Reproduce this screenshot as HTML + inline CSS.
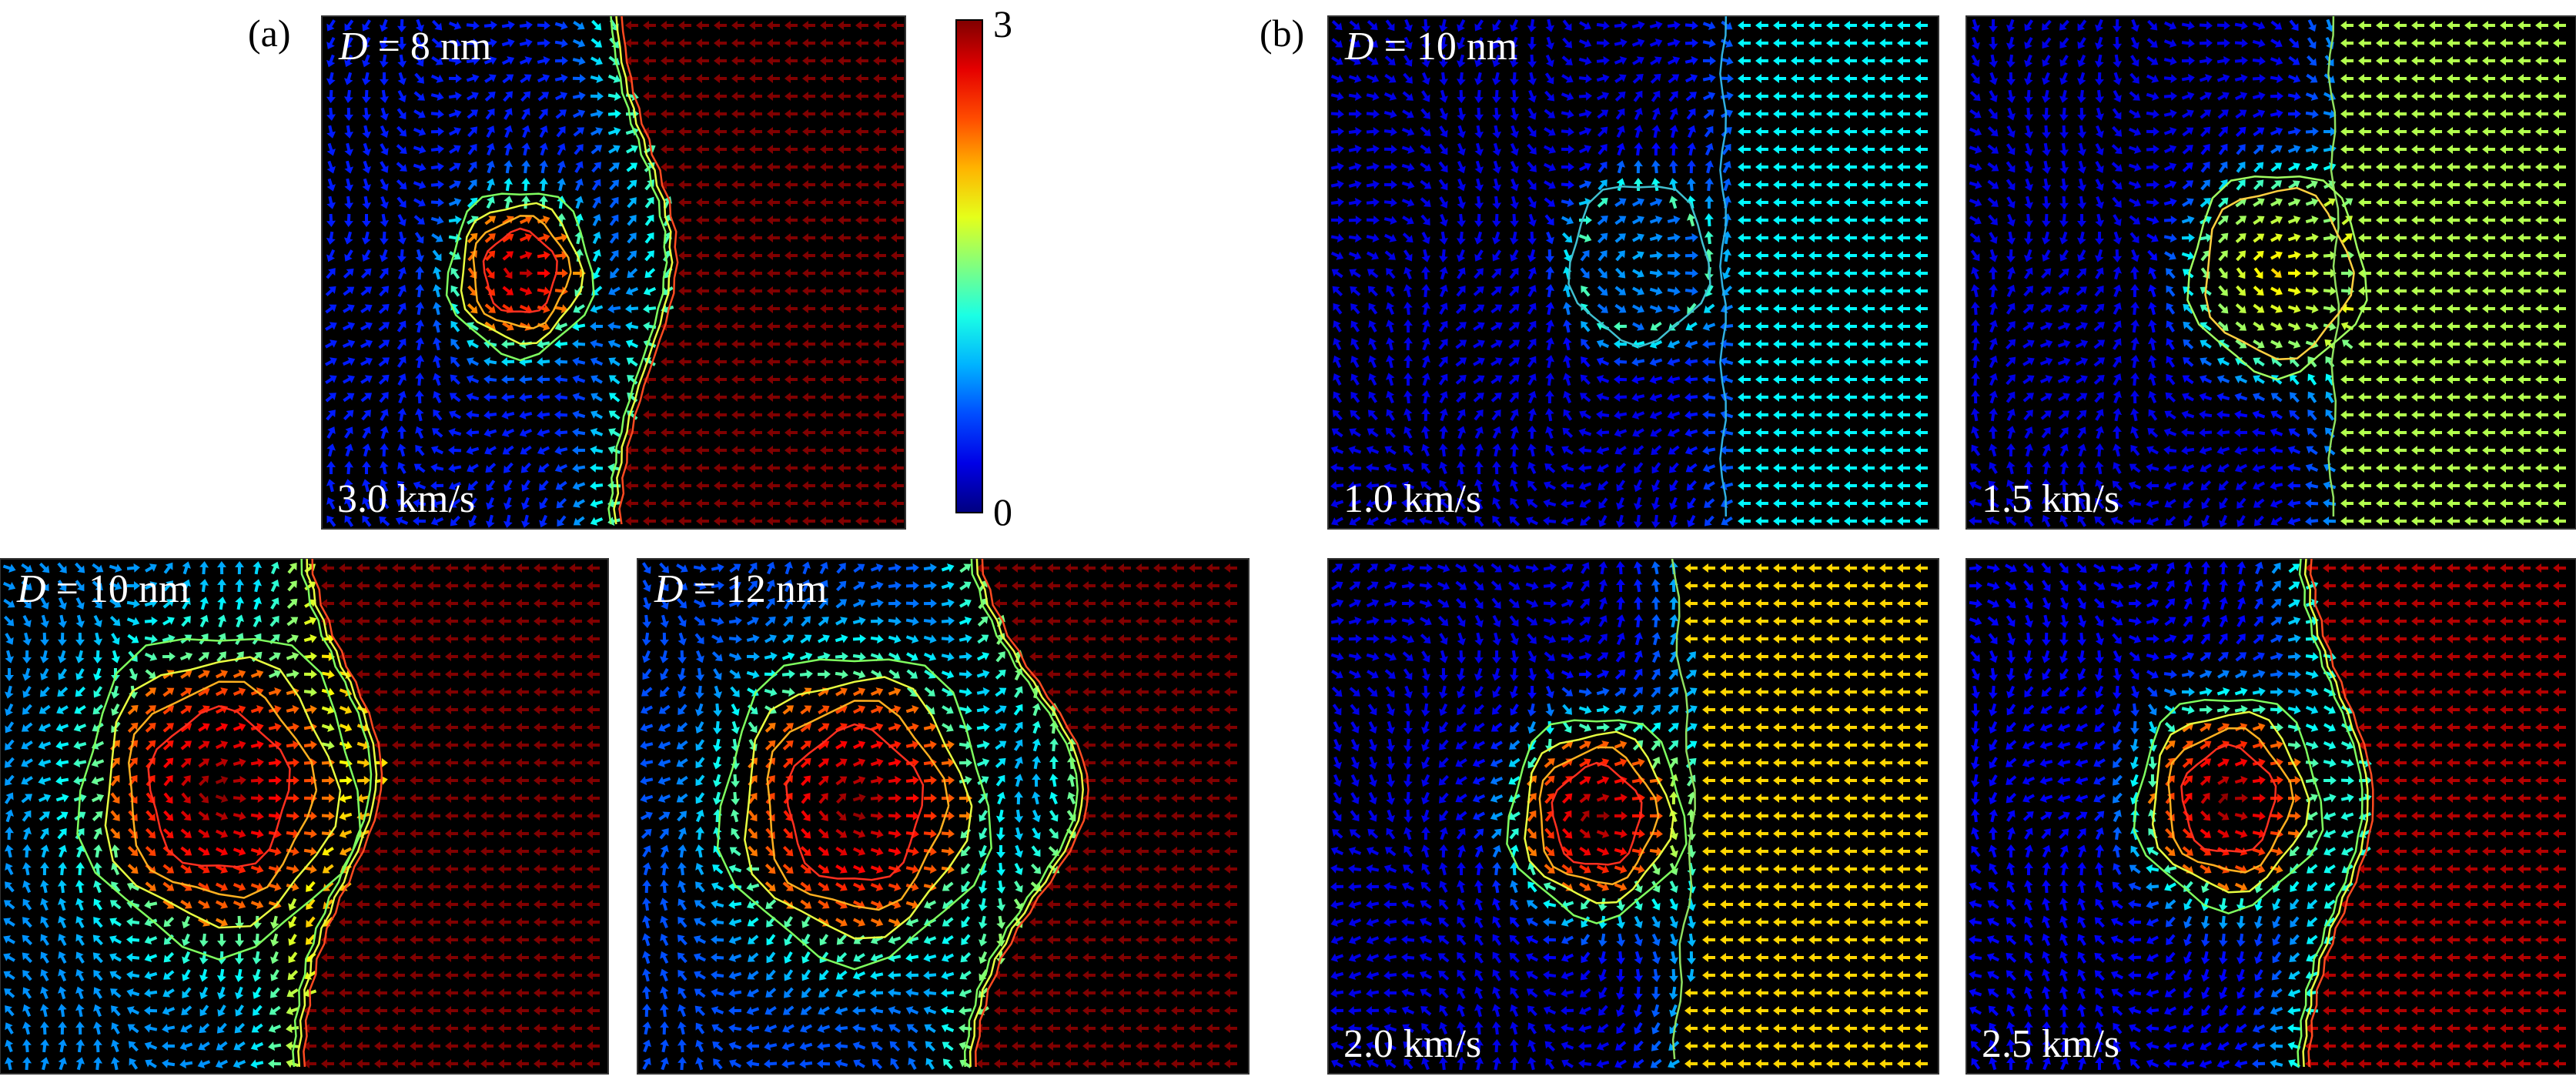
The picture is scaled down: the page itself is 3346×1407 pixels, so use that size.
<!DOCTYPE html>
<html><head><meta charset="utf-8">
<style>
html,body{margin:0;padding:0;background:#fff;}
#root{position:relative;width:3346px;height:1407px;overflow:hidden;background:#fff;font-family:"Liberation Serif",serif;}
.lbl{position:absolute;font-size:50px;color:#000;font-family:"Liberation Serif",serif;}
svg{position:absolute;left:0;top:0;}
svg text{font-family:"Liberation Serif",serif;}
</style></head>
<body>
<div id="root">
<div class="lbl" style="left:322px;top:14px;">(a)</div>
<div class="lbl" style="left:1636px;top:14px;">(b)</div>
<div class="lbl" style="left:1290px;top:2px;">3</div>
<div class="lbl" style="left:1290px;top:636px;">0</div>
<svg id="svg" width="3346" height="1407"></svg>
</div>
<script>
// panel data (fractions of panel size; values on 0..3 scale)
const panelNames = ["a-d8","a-d10","a-d12","b-v10","b-v15","b-v20","b-v25"];
const dLabels = ["D = 8 nm","D = 10 nm","D = 12 nm","D = 10 nm","","",""];
const speedLabels = ["3.0 km/s","","","1.0 km/s","1.5 km/s","2.0 km/s","2.5 km/s"];
const wallX = [0.50,0.49,0.54,0.66,0.61,0.58,0.55];
const wallBulge = [0.10,0.13,0.19,0.00,0.01,0.03,0.11];
const wallBulgeY = [0.47,0.42,0.45,0.5,0.5,0.5,0.47];
const rightVal = [3.0,3.0,3.0,1.1,1.65,2.0,2.85];
const bubbleX = [0.34,0.36,0.355,0.51,0.51,0.44,0.43];
const bubbleY = [0.50,0.45,0.48,0.48,0.50,0.50,0.47];
const bubbleR = [78,150,145,75,95,95,100];
const bubbleVal = [2.9,3.0,3.0,0.9,2.0,3.0,3.0];
const bgVal = [0.45,0.8,0.6,0.3,0.3,0.3,0.35];
// layout (px)
const boxes=[[418,21,758,666],[0,726,790,669],[828,726,794,669],[1725,21,793,666],[2554,21,792,666],[1725,726,793,669],[2554,726,792,669]];

const NS="http://www.w3.org/2000/svg";
const svg=document.getElementById('svg');
function jet(v){v=Math.max(0,Math.min(1,v));
 const r=Math.max(0,Math.min(1,1.5-Math.abs(4*v-3)));
 const g=Math.max(0,Math.min(1,1.5-Math.abs(4*v-2)));
 const b=Math.max(0,Math.min(1,1.5-Math.abs(4*v-1)));
 return `rgb(${Math.round(r*255)},${Math.round(g*255)},${Math.round(b*255)})`;}
function el(t,a,p){const e=document.createElementNS(NS,t);for(const k in a)e.setAttribute(k,a[k]);p.appendChild(e);return e;}

boxes.forEach((bx,i)=>{
 const [X,Y,W,H]=bx;
 const g=el('g',{},svg);
 
 
 const cp=el('clipPath',{id:'cp'+i},g);el('rect',{x:X,y:Y,width:W,height:H},cp);
 const bgr=el('rect',{x:X,y:Y,width:W,height:H,fill:'#000',stroke:'#333','stroke-width':2},g);
 
 
 const inner=el('g',{'clip-path':`url(#cp${i})`},g);
 const wx=(yy)=>X+W*(wallX[i]+wallBulge[i]*Math.exp(-Math.pow((yy-(Y+H*wallBulgeY[i]))/(H*0.28),2)));
 const cx=X+W*bubbleX[i], cy=Y+H*bubbleY[i], R=bubbleR[i];
 const sp=23;
 for(let yy=Y+12;yy<Y+H;yy+=sp){
  for(let xx=X+12;xx<X+W;xx+=sp){
   const w=wx(yy);let m,ang;
   const dx=xx-cx,dy=(yy-cy)/1.15,d=Math.hypot(dx,dy);
   if(xx>w+6){m=rightVal[i];ang=Math.PI;}
   else{
    const nearW=Math.exp(-Math.pow((w-xx)/50,2));
    const ring=Math.exp(-Math.pow((d-R)/(R*0.45),2));
    if(d<R){m=bubbleVal[i]*(0.75+0.25*(1-d/R));ang=Math.atan2(dy,dx)*0.3;}
    else{m=bgVal[i]+ (1.6-bgVal[i])*ring*0.8+ (rightVal[i]*0.5)*nearW*0.6;
     ang=Math.atan2(dx,-dy)*(dy>0?1:-1)+0.9*Math.sin(xx*0.017)+0.7*Math.cos(yy*0.013);}
   }
   const c=jet(m/3);
   const p=el('path',{d:'M-8,-2L1,-2L1,-6L9,0L1,6L1,2L-8,2Z',fill:c,
     transform:`translate(${xx.toFixed(1)},${yy.toFixed(1)}) rotate(${(ang*180/Math.PI).toFixed(1)})`},inner);
   
   
  }
 }
 // wall contours
 const wallCols=['#7fff5f','#e8ff40','#ff4a20'];
 if(rightVal[i]>=2.5) wallCols.forEach((col,k)=>{
  let pts=[];for(let yy=Y;yy<=Y+H;yy+=20){pts.push(`${(wx(yy)-8+k*7+2*Math.sin(yy*0.15)).toFixed(1)},${yy}`);}
  const pl=el('polyline',{points:pts.join(' '),fill:'none',stroke:col,'stroke-width':2.5},inner);
  
  
 });
 else{let pts=[];for(let yy=Y;yy<=Y+H;yy+=25){pts.push(`${(wx(yy)-10+4*Math.sin(yy*0.05)).toFixed(1)},${yy}`);}
  const pl=el('polyline',{points:pts.join(' '),fill:'none',stroke:rightVal[i]<1.5?'#30b0e0':'#90e060','stroke-width':2.5},inner);
  
  }
 // bubble contours
 const bc=bubbleVal[i]>2.5?['#7fff5f','#e8ff40','#ffb020','#ff3020']:(bubbleVal[i]>1.5?['#a0ff60','#ffd040']:['#40c0d0']);
 bc.forEach((col,k)=>{
  const r=R*(1.2-k*0.2);let pts=[];
  for(let t=0;t<=24;t++){const a=t/24*2*Math.PI;const rr=r*(1+0.06*Math.sin(5*a+k));
   pts.push(`${(cx+rr*Math.cos(a)).toFixed(1)},${(cy+rr*1.15*Math.sin(a)).toFixed(1)}`);}
  const pl=el('polyline',{points:pts.join(' '),fill:'none',stroke:col,'stroke-width':2.5},inner);
  
  
 });
 if(dLabels[i]){const t=el('text',{x:X+22,y:Y+56,fill:'#fff','font-size':52},g);
  t.innerHTML='<tspan font-style="italic">D</tspan>'+dLabels[i].slice(1);
  
  }
 if(speedLabels[i]){const t=el('text',{x:X+20,y:Y+H-22,fill:'#fff','font-size':52},g);
  t.textContent=speedLabels[i];
  
  }
});
// colorbar
const defs=el('defs',{},svg);
const lg=el('linearGradient',{id:'jetg',x1:0,y1:1,x2:0,y2:0},defs);
for(let s=0;s<=10;s++){el('stop',{offset:s/10,'stop-color':jet(s/10)},lg);}
const cb=el('rect',{x:1242,y:26,width:34,height:640,fill:'url(#jetg)',stroke:'#000','stroke-width':2},svg);


</script>
</body></html>
